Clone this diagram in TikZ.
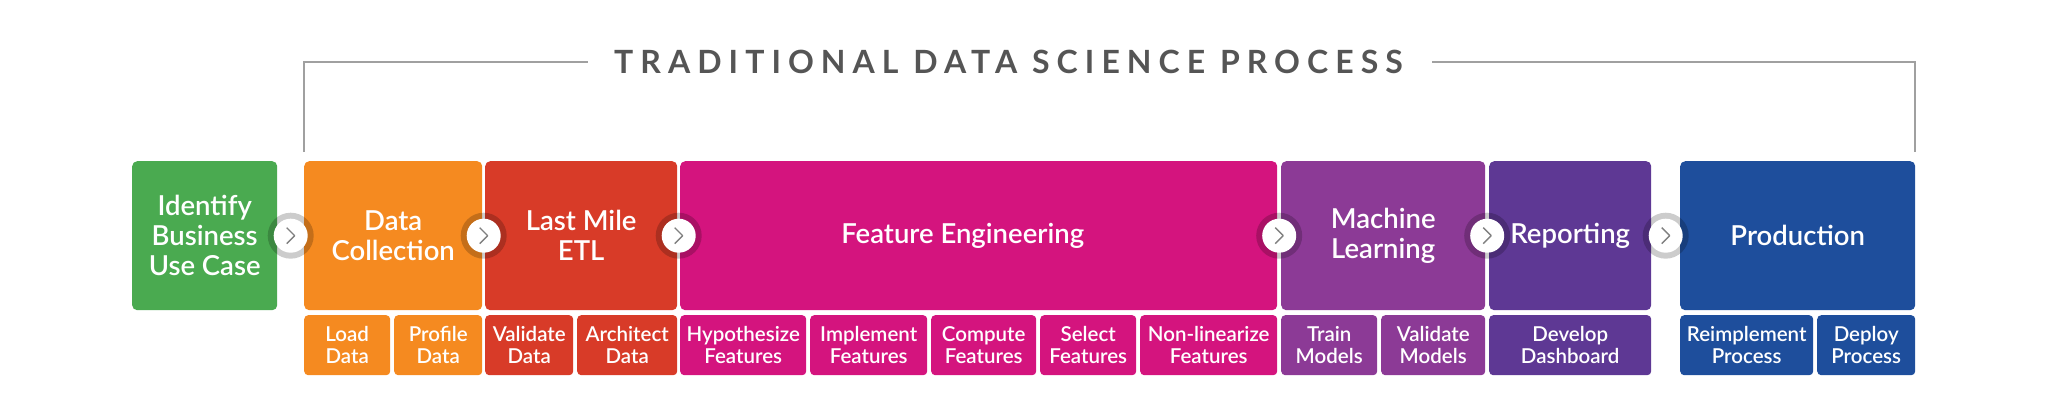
\documentclass[tikz,border=0pt]{standalone}
\usepackage{fontspec}
\setmainfont{Lato}
\newfontfamily\titlefont[LetterSpace=22]{Lato}
\newfontfamily\latosemi{Lato Semibold}
\usetikzlibrary{calc}
\definecolor{cgreen}{HTML}{4AAA50}
\definecolor{corange}{HTML}{F58A20}
\definecolor{cred}{HTML}{D83B28}
\definecolor{cmag}{HTML}{D4147E}
\definecolor{cml}{HTML}{8C3A96}
\definecolor{crep}{HTML}{5E3894}
\definecolor{cprod}{HTML}{1E4E9C}
\definecolor{ctitle}{HTML}{555555}
\definecolor{cline}{HTML}{A0A0A0}
\newcommand\stg[7]{\node[#1, fill=#2, anchor=north west, minimum width={#4-#3}] (#5) at (#3,#6) {#7};}
\begin{document}
\begin{tikzpicture}[x=1pt,y=-1pt,
  mainbox/.style={rounded corners=5pt, inner sep=0pt, minimum height=149, text=white, align=center, font=\latosemi\fontsize{27.5}{30}\selectfont},
  subbox/.style={rounded corners=4pt, inner sep=0pt, minimum height=60, text=white, align=center, font=\latosemi\fontsize{20.5}{22}\selectfont},
  ring/.style={circle, fill=black, fill opacity=0.2, minimum size=46, inner sep=0pt},
  arrowc/.style={circle, fill=white, minimum size=34, inner sep=0pt,
    path picture={\draw[gray, line width=1.4pt, line join=round] ([xshift=-4pt,yshift=8pt]path picture bounding box.center) -- ++(8pt,-8pt) -- ++(-8pt,-8pt);}},
  bracket/.style={draw=cline, line width=2pt}]
\useasboundingbox (0,0) rectangle (2048,415);
% title and bracket
\node[anchor=west, inner sep=0pt, text=ctitle, font=\titlefont\bfseries\fontsize{32}{36}\selectfont] (title) at (614,62) {TRADITIONAL DATA SCIENCE PROCESS};
\coordinate (bl) at (304,152);
\coordinate (br) at (1915,152);
\draw[bracket] (bl) |- ($(title.west)+(-26,0)$);
\draw[bracket] (br) |- ($(title.east)+(29,0)$);
% main boxes
\stg{mainbox}{cgreen}{132}{277}{id}{161}{Identify\\Business\\Use Case}
\stg{mainbox}{corange}{304}{482}{dc}{161}{Data\\Collection}
\stg{mainbox}{cred}{485}{677}{lm}{161}{Last Mile\\ETL}
\stg{mainbox}{cmag}{680}{1277}{fe}{161}{Feature Engineering\hspace*{32pt}}
\stg{mainbox}{cml}{1281}{1485}{ml}{161}{Machine\\Learning}
\stg{mainbox}{crep}{1489}{1651}{rp}{161}{Reporting}
\stg{mainbox}{cprod}{1680}{1915}{pr}{161}{Production}
% sub boxes
\stg{subbox}{corange}{304}{390}{s1}{315}{Load\\Data}
\stg{subbox}{corange}{394}{482}{s2}{315}{Profile\\Data}
\stg{subbox}{cred}{485}{573}{s3}{315}{Validate\\Data}
\stg{subbox}{cred}{577}{677}{s4}{315}{Architect\\Data}
\stg{subbox}{cmag}{680}{806}{s5}{315}{Hypothesize\\Features}
\stg{subbox}{cmag}{810}{927}{s6}{315}{Implement\\Features}
\stg{subbox}{cmag}{931}{1036}{s7}{315}{Compute\\Features}
\stg{subbox}{cmag}{1040}{1136}{s8}{315}{Select\\Features}
\stg{subbox}{cmag}{1140}{1277}{s9}{315}{Non-linearize\\Features}
\stg{subbox}{cml}{1281}{1377}{s10}{315}{Train\\Models}
\stg{subbox}{cml}{1381}{1485}{s11}{315}{Validate\\Models}
\stg{subbox}{crep}{1489}{1651}{s12}{315}{Develop\\Dashboard}
\stg{subbox}{cprod}{1680}{1813}{s13}{315}{Reimplement\\Process}
\stg{subbox}{cprod}{1817}{1915}{s14}{315}{Deploy\\Process}
% arrow circles
\foreach \a/\b/\n in {id/dc/c1, dc/lm/c2, lm/fe/c3, fe/ml/c4, ml/rp/c5, rp/pr/c6}{
  \node[ring] (\n r) at ($(\a.east)!0.5!(\b.west)$) {};
  \node[arrowc] (\n) at ($(\a.east)!0.5!(\b.west)$) {};
}
\end{tikzpicture}
\end{document}
